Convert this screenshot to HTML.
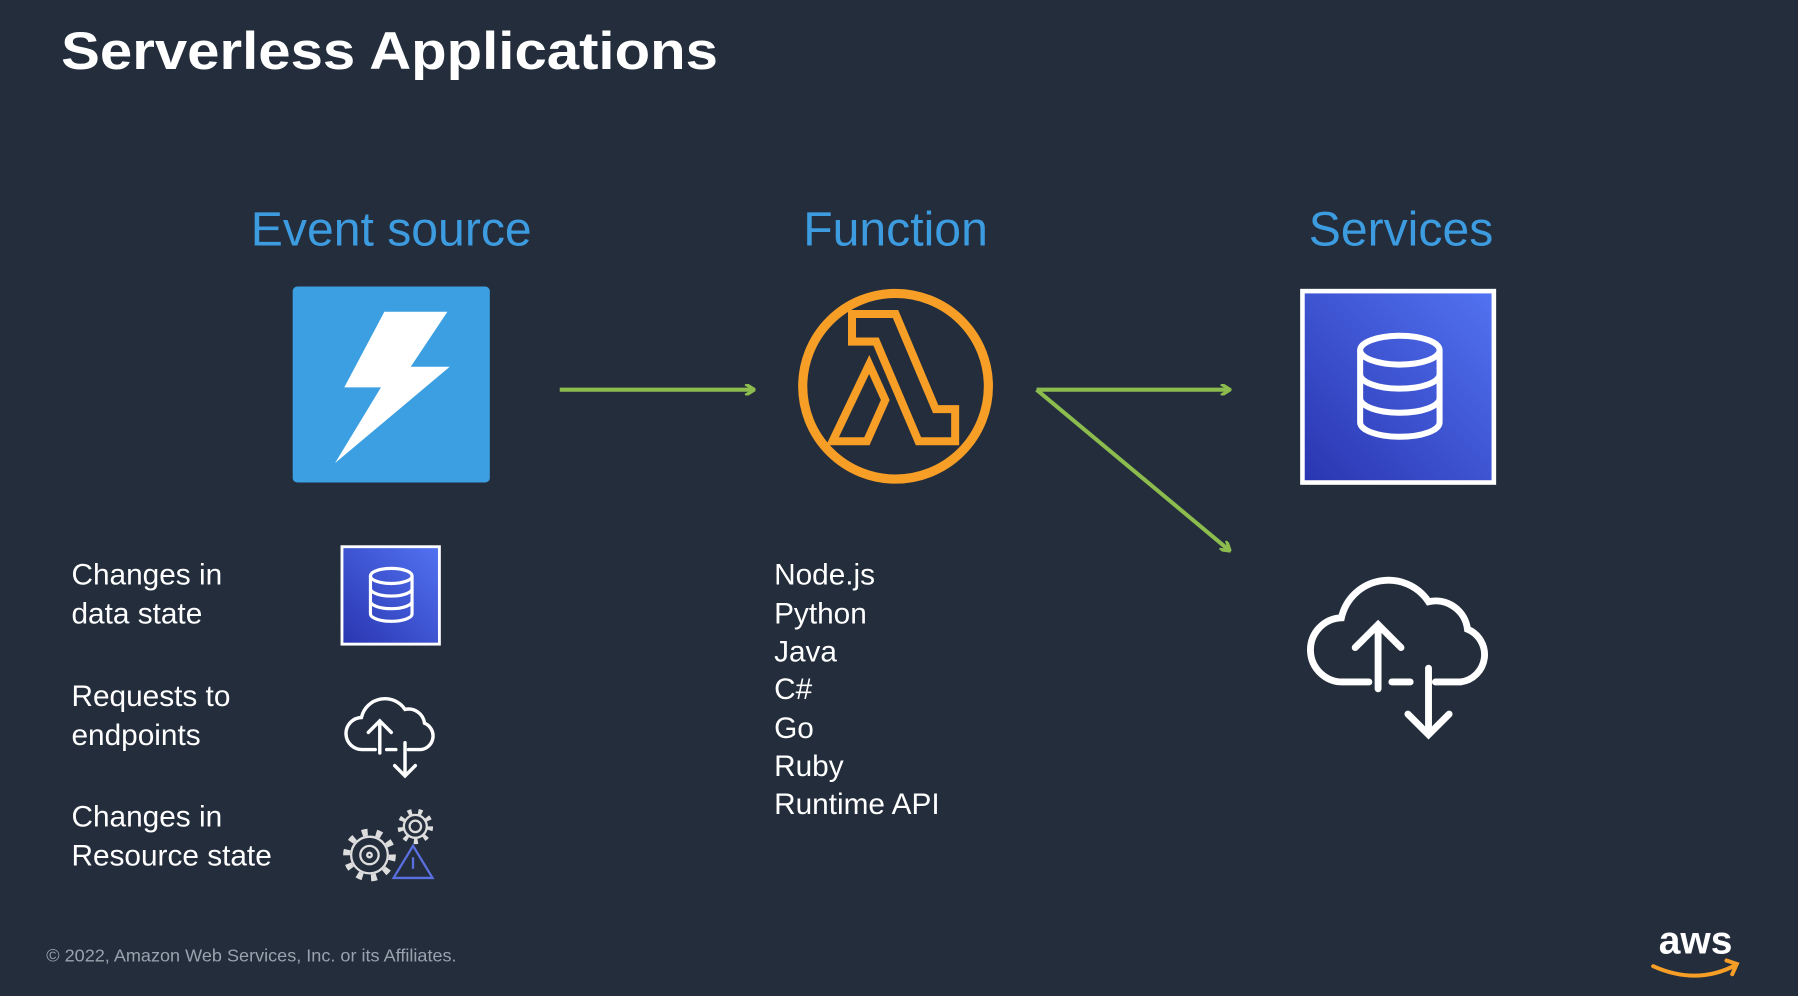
<!DOCTYPE html>
<html><head><style>html,body{margin:0;padding:0;background:#232d3c;overflow:hidden}svg{display:block}text{font-family:"Liberation Sans",sans-serif}</style></head>
<body>
<svg width="1798" height="996" viewBox="0 0 1568 869" xmlns="http://www.w3.org/2000/svg">
<defs>
<linearGradient id="g" x1="0" y1="1" x2="1" y2="0"><stop offset="0" stop-color="#2a35b0"/><stop offset="1" stop-color="#5273f2"/></linearGradient>
<marker id="ah" markerWidth="10" markerHeight="10" refX="8" refY="5" orient="auto" markerUnits="userSpaceOnUse"><path d="M1,0 L9,5 L1,10" fill="none" stroke="#8cbc4e" stroke-width="3"/></marker>
<g id="db"><ellipse cx="0" cy="-30" rx="33" ry="12" fill="none" stroke="#fff" stroke-width="5"/><path d="M-33,-30 V30 A33,12 0 0 0 33,30 V-30 M-33,-10 A33,12 0 0 0 33,-10 M-33,10 A33,12 0 0 0 33,10" fill="none" stroke="#fff" stroke-width="5"/></g>
<g id="cloud"><path d="M-28,42 H-50 A28,28 0 0 1 -52,-14 A42,42 0 0 1 24,-28 A28,28 0 0 1 58,-4 A24,24 0 0 1 52,42 H30" fill="none" stroke="#fff" stroke-width="6" stroke-linecap="round"/><path d="M-20,48 V-8 M-40,12 L-20,-8 L0,12 M-8,42 H8 M24,30 V88 M6,70 L24,88 L42,70" fill="none" stroke="#fff" stroke-width="6" stroke-linecap="round"/></g>
</defs>
<rect width="1568" height="869" fill="#232d3c"/>
<text x="53" y="60" fill="#fff" font-size="46" font-weight="bold" textLength="573" lengthAdjust="spacingAndGlyphs">Serverless Applications</text>
<text x="341" y="214" fill="#3d9be0" font-size="42" text-anchor="middle">Event source</text>
<text x="781" y="214" fill="#3d9be0" font-size="42" text-anchor="middle">Function</text>
<text x="1222" y="214" fill="#3d9be0" font-size="42" text-anchor="middle">Services</text>
<rect x="255" y="250" width="172" height="171" rx="4" fill="#3b9fe2"/>
<path d="M335,272 L390,272 L358,320 L392,320 L292,404 L332,338 L300,338 Z" fill="#fff"/>
<circle cx="781" cy="337" r="81" fill="none" stroke="#f69e26" stroke-width="8"/>
<g transform="translate(781,337)" fill="none" stroke="#f69e26" stroke-width="7" stroke-linejoin="miter">
<path d="M-38,-63 L0,-63 L35,20 L52,20 L52,48 L20,48 L-17,-39 L-38,-39 Z"/>
<path d="M-23,-19 L-9,12 L-25,48 L-55,48 Z"/>
</g>
<rect x="1136" y="254" width="167" height="167" fill="url(#g)" stroke="#fff" stroke-width="4"/>
<g transform="translate(1221,337) scale(1.05)"><use href="#db"/></g>
<line x1="488" y1="340" x2="657" y2="340" stroke="#8cbc4e" stroke-width="3.5" marker-end="url(#ah)"/>
<line x1="904" y1="340" x2="1072" y2="340" stroke="#8cbc4e" stroke-width="3.5" marker-end="url(#ah)"/>
<line x1="904" y1="340" x2="1072" y2="480" stroke="#8cbc4e" stroke-width="3.5" marker-end="url(#ah)"/>
<g transform="translate(1222,553)"><use href="#cloud"/></g>
<rect x="298" y="477" width="85" height="85" fill="url(#g)" stroke="#fff" stroke-width="2.5"/>
<g transform="translate(341,519) scale(0.55)"><use href="#db"/></g>
<g transform="translate(341,633) scale(0.5)"><use href="#cloud"/></g>
<g fill="none" stroke="#ddd" stroke-width="2">
<circle cx="322" cy="746" r="16"/><circle cx="322" cy="746" r="20" stroke-width="6" stroke-dasharray="5 7.5"/><circle cx="322" cy="746" r="8"/><circle cx="322" cy="746" r="2"/>
<circle cx="362" cy="721" r="10"/><circle cx="362" cy="721" r="13" stroke-width="5" stroke-dasharray="3.5 5.6"/><circle cx="362" cy="721" r="5"/>
</g>
<path d="M360,738 L377,766 L343,766 Z" fill="#232d3c" stroke="#5a6fe0" stroke-width="2"/>
<line x1="360" y1="748" x2="360" y2="758" stroke="#5a6fe0" stroke-width="2"/>
<g fill="#fff" font-size="26">
<text x="62" y="510">Changes in</text><text x="62" y="544">data state</text>
<text x="62" y="616">Requests to</text><text x="62" y="650">endpoints</text>
<text x="62" y="721">Changes in</text><text x="62" y="755">Resource state</text>
<text x="675" y="510">Node.js</text><text x="675" y="544">Python</text><text x="675" y="577">Java</text><text x="675" y="610">C#</text><text x="675" y="644">Go</text><text x="675" y="677">Ruby</text><text x="675" y="710">Runtime API</text>
</g>
<text x="40" y="839" fill="#9aa3ad" font-size="15" textLength="358" lengthAdjust="spacingAndGlyphs">© 2022, Amazon Web Services, Inc. or its Affiliates.</text>
<text x="1479" y="832" fill="#fff" font-size="34" font-weight="bold" text-anchor="middle">aws</text>
<path d="M1442,843 Q1480,860 1514,842 M1506,838 L1515,841 L1511,850" fill="none" stroke="#f69e26" stroke-width="3.5" stroke-linecap="round"/>
</svg>
</body></html>
